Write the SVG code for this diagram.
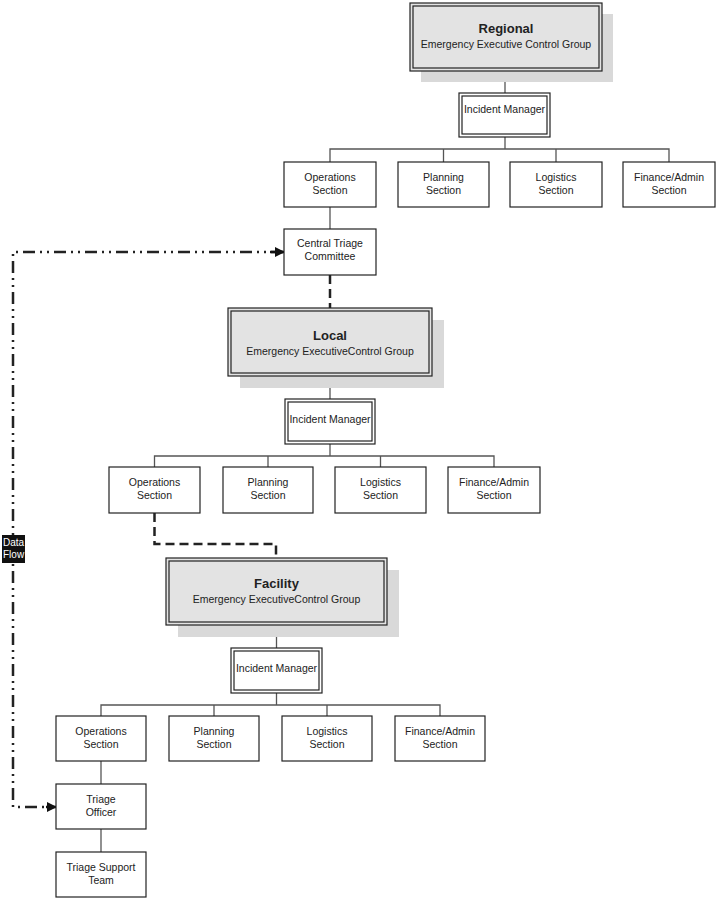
<svg xmlns="http://www.w3.org/2000/svg" width="717" height="900" viewBox="0 0 717 900">
<style>
text{font-family:"Liberation Sans",Arial,sans-serif;fill:#222;text-anchor:middle;font-size:10.5px}
.t{font-weight:bold;font-size:13px}
.box{fill:#fff;stroke:#222;stroke-width:1.2}
.big{fill:#e3e3e3;stroke:#222;stroke-width:1.2}
.in{fill:none;stroke:#222;stroke-width:1.2}
.sh{fill:#d9d9d9}
.c{stroke:#555;stroke-width:1.3;fill:none}
.d{stroke:#222;stroke-width:2.5;fill:none;stroke-dasharray:9,5}
.df{stroke:#222;stroke-width:2.5;fill:none;stroke-dasharray:12,5,2,5,2,5}
</style>
<defs>
<marker id="ah" markerWidth="10" markerHeight="10" refX="9" refY="5" orient="auto" markerUnits="userSpaceOnUse">
<path d="M0,0 L10,5 L0,10 Z" fill="#111"/>
</marker>
</defs>
<g id="connectors">
<line class="c" x1="505" y1="71" x2="505" y2="93"/>
<line class="c" x1="505" y1="137" x2="505" y2="149"/>
<polyline class="c" points="330,162 330,149 669,149 669,162"/>
<line class="c" x1="443.5" y1="149" x2="443.5" y2="162"/>
<line class="c" x1="556" y1="149" x2="556" y2="162"/>
<line class="c" x1="330" y1="207" x2="330" y2="229"/>
<line class="d" x1="330" y1="275" x2="330" y2="308"/>
<line class="c" x1="330" y1="376" x2="330" y2="399"/>
<line class="c" x1="330" y1="444" x2="330" y2="456"/>
<polyline class="c" points="154.5,467 154.5,456 494,456 494,467"/>
<line class="c" x1="268" y1="456" x2="268" y2="467"/>
<line class="c" x1="380.5" y1="456" x2="380.5" y2="467"/>
<polyline class="d" points="154.5,513 154.5,544 276,544 276,558"/>
<line class="c" x1="276.5" y1="625" x2="276.5" y2="648"/>
<line class="c" x1="276.5" y1="693" x2="276.5" y2="705"/>
<polyline class="c" points="101,716 101,705 440,705 440,716"/>
<line class="c" x1="214" y1="705" x2="214" y2="716"/>
<line class="c" x1="327" y1="705" x2="327" y2="716"/>
<line class="c" x1="101" y1="761" x2="101" y2="784"/>
<line class="c" x1="101" y1="829" x2="101" y2="852"/>
<polyline class="df" points="283,252 13,252 13,807 55,807"/>
<line x1="270" y1="252" x2="284" y2="252" stroke="#111" stroke-width="2.5" marker-end="url(#ah)"/>
<line x1="46" y1="807" x2="56" y2="807" stroke="#111" stroke-width="2.5" marker-end="url(#ah)"/>
</g>
<g id="dataflow-label">
<rect x="2" y="535" width="23" height="28" fill="#111"/>
<text x="3" y="546" style="fill:#fff;text-anchor:start;font-size:10px">Data</text>
<text x="3" y="558" style="fill:#fff;text-anchor:start;font-size:10px">Flow</text>
</g>
<g id="regional">
<rect class="sh" x="421" y="14" width="192" height="68"/>
<rect class="big" x="410" y="3" width="192" height="68"/>
<rect class="in" x="413" y="6" width="186" height="62"/>
<text class="t" x="506" y="33">Regional</text>
<text x="506" y="48">Emergency Executive Control Group</text>
</g>
<g id="regional-im">
<rect class="box" x="459" y="93" width="91" height="44"/>
<rect class="in" x="462" y="96" width="85" height="38"/>
<text x="504.5" y="113">Incident Manager</text>
</g>
<g id="r-ops"><rect class="box" x="284" y="162" width="92" height="45"/><text x="330" y="181">Operations</text><text x="330" y="194">Section</text></g>
<g id="r-plan"><rect class="box" x="398" y="162" width="91" height="45"/><text x="443.5" y="181">Planning</text><text x="443.5" y="194">Section</text></g>
<g id="r-log"><rect class="box" x="510" y="162" width="92" height="45"/><text x="556" y="181">Logistics</text><text x="556" y="194">Section</text></g>
<g id="r-fin"><rect class="box" x="623" y="162" width="92" height="45"/><text x="669" y="181">Finance/Admin</text><text x="669" y="194">Section</text></g>
<g id="central-triage"><rect class="box" x="284" y="229" width="92" height="46"/><text x="330" y="247">Central Triage</text><text x="330" y="260">Committee</text></g>
<g id="local">
<rect class="sh" x="240" y="320" width="204" height="68"/>
<rect class="big" x="228" y="308" width="204" height="68"/>
<rect class="in" x="231" y="311" width="198" height="62"/>
<text class="t" x="330" y="340">Local</text>
<text x="330" y="355">Emergency ExecutiveControl Group</text>
</g>
<g id="local-im">
<rect class="box" x="285" y="399" width="90" height="45"/>
<rect class="in" x="288" y="402" width="84" height="39"/>
<text x="330" y="423">Incident Manager</text>
</g>
<g id="l-ops"><rect class="box" x="109" y="467" width="91" height="46"/><text x="154.5" y="486">Operations</text><text x="154.5" y="499">Section</text></g>
<g id="l-plan"><rect class="box" x="223" y="467" width="90" height="46"/><text x="268" y="486">Planning</text><text x="268" y="499">Section</text></g>
<g id="l-log"><rect class="box" x="335" y="467" width="91" height="46"/><text x="380.5" y="486">Logistics</text><text x="380.5" y="499">Section</text></g>
<g id="l-fin"><rect class="box" x="448" y="467" width="92" height="46"/><text x="494" y="486">Finance/Admin</text><text x="494" y="499">Section</text></g>
<g id="facility">
<rect class="sh" x="178" y="570" width="221" height="67"/>
<rect class="big" x="166" y="558" width="221" height="67"/>
<rect class="in" x="169" y="561" width="215" height="61"/>
<text class="t" x="276.5" y="588">Facility</text>
<text x="276.5" y="603">Emergency ExecutiveControl Group</text>
</g>
<g id="facility-im">
<rect class="box" x="231" y="648" width="91" height="45"/>
<rect class="in" x="234" y="651" width="85" height="39"/>
<text x="276.5" y="672">Incident Manager</text>
</g>
<g id="f-ops"><rect class="box" x="56" y="716" width="90" height="45"/><text x="101" y="735">Operations</text><text x="101" y="748">Section</text></g>
<g id="f-plan"><rect class="box" x="169" y="716" width="90" height="45"/><text x="214" y="735">Planning</text><text x="214" y="748">Section</text></g>
<g id="f-log"><rect class="box" x="282" y="716" width="90" height="45"/><text x="327" y="735">Logistics</text><text x="327" y="748">Section</text></g>
<g id="f-fin"><rect class="box" x="395" y="716" width="90" height="45"/><text x="440" y="735">Finance/Admin</text><text x="440" y="748">Section</text></g>
<g id="triage-officer"><rect class="box" x="56" y="784" width="90" height="45"/><text x="101" y="803">Triage</text><text x="101" y="816">Officer</text></g>
<g id="triage-support"><rect class="box" x="56" y="852" width="90" height="45"/><text x="101" y="871">Triage Support</text><text x="101" y="884">Team</text></g>
</svg>
